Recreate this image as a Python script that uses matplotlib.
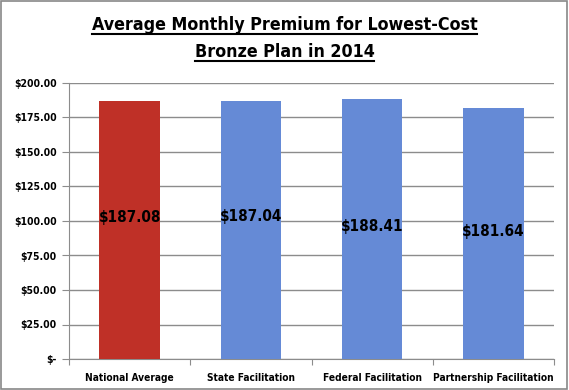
import matplotlib
matplotlib.use('Agg')
import matplotlib.pyplot as plt
from matplotlib.lines import Line2D
from matplotlib.patches import Rectangle

categories = ['National Average', 'State Facilitation', 'Federal Facilitation', 'Partnership Facilitation']
premiums = [187.08, 187.04, 188.41, 181.64]
label_text = ['$187.08', '$187.04', '$188.41', '$181.64']
bar_colors = ['#BF3027', '#658AD6', '#658AD6', '#658AD6']
y_ticks = [0, 25, 50, 75, 100, 125, 150, 175, 200]
y_tick_labels = ['$-', '$25.00', '$50.00', '$75.00', '$100.00', '$125.00', '$150.00', '$175.00', '$200.00']
# where the data labels sit (in data units), as in the original
label_y = [102.8, 103.5, 96, 92.6]

plt.rcParams['font.family'] = ['DejaVu Sans']
plt.rcParams['font.stretch'] = 'condensed'
plt.rcParams['font.weight'] = 'bold'

W, H = 569, 390
fig = plt.figure(figsize=(W / 100, H / 100), dpi=100)
fig.patches.append(Rectangle((0.002, 0.003), 0.995, 0.994, transform=fig.transFigure,
                             fill=False, edgecolor='#888888', linewidth=1.2))
ax = fig.add_axes([69 / W, (H - 359) / H, (554 - 69) / W, (359 - 83) / H])

x = range(len(categories))
ax.bar(x, premiums, width=0.5, color=bar_colors, zorder=3)
for i, txt in enumerate(label_text):
    ax.text(i, label_y[i], txt, ha='center', va='center', fontsize=11, fontweight='bold', zorder=4)

ax.set_xlim(-0.5, 3.5)
ax.set_ylim(0, 200)
ax.set_yticks(y_ticks)
ax.set_yticklabels(y_tick_labels, fontsize=7.5, fontweight='bold')
ax.yaxis.grid(True, color='#8c8c8c', linewidth=1, zorder=0)
ax.set_xticks([-0.5, 0.5, 1.5, 2.5, 3.5])
ax.set_xticklabels([])
ax.set_xticks(list(x), minor=True)
ax.set_xticklabels(categories, minor=True, fontsize=7.3, fontweight='bold')
ax.tick_params(axis='x', which='minor', length=0, pad=10)
ax.tick_params(axis='x', which='major', length=4, color='#8c8c8c')
ax.tick_params(axis='y', length=5, color='#8c8c8c', pad=4)
for s in ['top', 'right']:
    ax.spines[s].set_visible(False)
for s in ['left', 'bottom']:
    ax.spines[s].set_color('#8c8c8c')

title_lines = ['Average Monthly Premium for Lowest-Cost', 'Bronze Plan in 2014']
title_base = [30, 57]
for txt, yb in zip(title_lines, title_base):
    t = fig.text(0.5, 1 - yb / H, txt, ha='center', va='baseline', fontsize=12.8, fontweight='bold')
    fig.canvas.draw()
    bb = t.get_window_extent(renderer=fig.canvas.get_renderer()).transformed(fig.transFigure.inverted())
    uy = 1 - (yb + 3.5) / H
    fig.add_artist(Line2D([bb.x0, bb.x1], [uy, uy], transform=fig.transFigure,
                          color='black', linewidth=1.5))

fig.savefig('out.png', dpi=100)
